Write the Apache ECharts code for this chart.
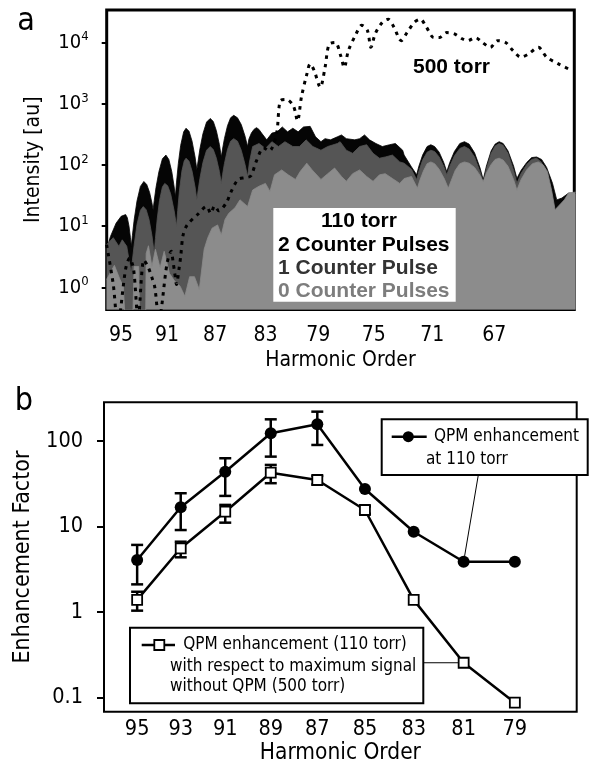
<!DOCTYPE html>
<html>
<head>
<meta charset="utf-8">
<script src="https://cdn.jsdelivr.net/npm/echarts@6/dist/echarts.min.js"></script>
<style>
  html, body { margin: 0; padding: 0; background: #fff; }
  #main { width: 590px; height: 766px; }
</style>
</head>
<body>
<div id="main"></div>
<script>
var FONT = '"DejaVu Sans Condensed", "Liberation Sans", sans-serif';
var BOLD = '"Liberation Sans", Arial, sans-serif';

// ---- panel a : spectra, [harmonic order, intensity au] ----
var twoPulses = [
  [96.3, 4.2], [95.95, 6.8], [95.45, 11.2], [95.0, 14.5], [94.6, 15.5], [94.45, 13.8], [94.3, 10], [94.18, 6.6], [94.1, 4.7],
  [94.0, 7.1], [93.85, 12.6], [93.6, 25.7], [93.3, 44.7], [93.0, 53.7], [92.75, 47.9], [92.5, 35.5], [92.3, 24], [92.2, 18.6],
  [92.1, 26.3], [91.95, 42.7], [91.7, 77.6], [91.4, 126], [91.1, 145], [90.85, 123], [90.6, 77.6], [90.4, 43.7], [90.3, 30.2],
  [90.2, 52.5], [90.05, 105], [89.85, 209], [89.6, 347], [89.4, 398], [89.15, 355], [88.9, 245], [88.65, 135], [88.5, 83.2],
  [88.4, 115], [88.25, 182], [88.0, 324], [87.7, 501], [87.4, 575], [87.15, 513], [86.9, 363], [86.65, 214], [86.5, 135],
  [86.4, 182], [86.25, 269], [86.0, 437], [85.75, 589], [85.5, 646], [85.2, 589], [84.9, 457], [84.6, 295], [84.4, 200],
  [84.3, 263], [84.1, 331], [83.9, 380], [83.7, 407], [83.5, 380], [83.3, 331], [82.9, 257], [82.5, 331], [82.1, 347],
  [81.7, 417], [81.3, 347], [80.9, 398], [80.5, 347], [80.1, 417], [79.6, 427], [79.2, 288], [78.8, 240], [78.5, 269],
  [78.1, 257], [77.6, 288], [77.3, 309], [76.95, 269], [76.35, 257], [76.0, 269], [75.65, 309], [75.3, 257], [74.85, 224],
  [74.4, 200], [73.9, 214], [73.5, 224], [73.0, 174], [72.9, 145], [72.4, 93], [72.05, 69.2],
  [71.9, 95.5], [71.65, 145], [71.35, 200], [71.1, 214], [70.85, 200], [70.55, 162], [70.25, 110], [70.05, 77.6],
  [69.85, 110], [69.55, 166], [69.2, 224], [68.9, 240], [68.6, 219], [68.25, 158], [67.9, 89.1], [67.7, 57.5],
  [67.5, 95.5], [67.2, 170], [66.95, 219], [66.7, 240], [66.45, 224], [66.15, 170], [65.8, 95.5], [65.6, 60.3],
  [65.35, 81.3], [65.0, 110], [64.7, 132], [64.4, 135], [64.1, 123], [63.8, 91.2], [63.45, 50.1], [63.2, 26.9],
  [62.9, 28.8], [62.5, 34.7], [62.1, 34.7]
];
var onePulse = [
  [96.3, 5.0], [95.7, 6.5], [95.2, 4.7], [94.9, 6.0], [94.5, 4.7], [94.1, 1.7],
  [94.0, 2.8], [93.85, 4.9], [93.6, 10.7], [93.3, 18.2], [93.05, 20.9], [92.8, 18.6], [92.55, 12.9], [92.3, 7.1], [92.1, 3.6],
  [92.0, 6.3], [91.85, 12.9], [91.65, 26.3], [91.4, 43.7], [91.2, 50], [90.95, 45.7], [90.7, 33.9], [90.4, 17.8], [90.2, 10],
  [90.1, 18.2], [89.95, 38.9], [89.75, 79.4], [89.55, 117], [89.4, 129], [89.15, 115], [88.9, 79.4], [88.65, 43.7], [88.5, 26.9],
  [88.4, 38], [88.25, 60.3], [88.0, 110], [87.7, 174], [87.4, 200], [87.15, 178], [86.9, 129], [86.65, 77.6], [86.5, 50],
  [86.4, 69.2], [86.25, 105], [86.0, 178], [85.75, 245], [85.5, 269], [85.2, 245], [84.9, 174], [84.6, 102], [84.4, 64.6],
  [84.25, 112], [84.0, 200], [83.5, 224], [83.0, 186], [82.5, 240], [82.0, 200], [81.5, 240], [80.9, 200],
  [80.4, 200], [79.9, 257], [79.4, 200], [78.8, 174], [78.3, 200], [77.6, 224], [77.4, 240],
  [76.95, 174], [76.5, 155], [76.0, 200], [75.5, 214], [75.05, 155], [74.6, 129], [74.2, 135],
  [73.7, 145], [73.2, 112], [72.9, 107], [72.4, 85], [72.05, 57.5],
  [71.9, 79.4], [71.65, 120], [71.35, 162], [71.1, 174], [70.85, 166], [70.55, 135], [70.25, 95.5], [70.05, 69.2],
  [69.85, 95.5], [69.55, 141], [69.2, 186], [68.9, 200], [68.6, 182], [68.25, 135], [67.9, 77.6], [67.7, 50.1],
  [67.5, 85.1], [67.2, 155], [66.95, 204], [66.7, 224], [66.45, 209], [66.15, 155], [65.8, 81.3], [65.6, 50.1],
  [65.35, 72.4], [65.0, 102], [64.7, 123], [64.4, 129], [64.1, 110], [63.8, 64.6], [63.5, 27.5], [63.3, 12.9],
  [62.9, 22], [62.5, 32], [62.1, 33]
];
var zeroPulses = [
  [96.3, 1.35], [95.6, 2.3], [95.1, 1.35], [94.8, 1.05], [94.6, 0.2], [94.0, 0.2],
  [93.85, 2.2], [93.45, 2.2], [93.35, 0.2], [92.85, 0.2], [92.8, 3.6], [92.6, 4.8],
  [92.3, 2.2], [92.0, 4.2], [91.6, 2.1], [91.25, 3.9], [90.8, 1.7], [90.35, 1.26],
  [89.9, 1.05], [89.5, 0.72], [89.1, 1.5], [88.7, 1.5], [88.3, 0.93], [87.9, 4.2],
  [87.6, 6.5], [87.25, 9.3], [86.8, 10.5], [86.5, 7.2], [86.2, 12.9], [85.9, 16.2],
  [85.4, 20], [85.0, 27], [84.4, 21], [84.0, 39], [83.5, 45], [83.0, 50], [82.65, 37],
  [82.3, 69], [81.75, 83], [81.25, 69], [80.7, 58], [80.35, 78], [79.85, 107], [79.45, 83],
  [78.8, 58], [78.3, 72], [77.8, 89], [77.3, 65], [76.95, 54], [76.5, 72], [76.0, 83],
  [75.5, 65], [75.05, 54], [74.6, 69], [74.2, 72], [73.7, 60], [73.2, 50], [72.9, 60],
  [72.4, 65], [72.0, 41.7], [71.85, 55], [71.6, 79.4], [71.35, 105], [71.1, 112], [70.85, 105],
  [70.55, 85.1], [70.2, 58.9], [69.95, 41.7], [69.75, 56.2], [69.5, 81.3], [69.2, 105], [68.9, 112],
  [68.6, 107], [68.25, 91.2], [67.9, 67.6], [67.7, 53.7], [67.5, 74.1], [67.2, 102], [66.95, 123],
  [66.7, 129], [66.45, 120], [66.15, 95.5], [65.8, 57.5], [65.6, 38.9], [65.35, 57.5], [65.0, 83.2],
  [64.65, 105], [64.3, 112], [64.0, 100], [63.75, 77.6], [63.5, 38], [63.3, 18.6], [62.75, 27],
  [62.5, 35], [62.1, 36]
];
var torr500 = [
  [96.3, 5.0], [95.7, 1.12], [95.3, 0.25], [94.6, 2.0], [94.25, 3.0], [93.9, 2.0], [93.5, 0.3],
  [93.0, 2.8], [92.65, 2.2], [92.3, 1.45], [92.05, 1.0], [91.7, 0.3], [91.0, 2.5], [90.65, 3.9],
  [90.5, 2.7], [90.35, 1.7], [90.2, 1.12], [90.0, 1.95], [89.85, 3.2], [89.65, 7.1], [89.3, 10.5],
  [88.4, 15.8], [87.7, 21], [87.35, 16.2], [87.05, 21.4], [86.7, 17.8], [86.1, 24], [85.7, 37],
  [85.15, 58], [84.6, 62], [84.15, 66], [83.7, 117], [83.15, 190], [82.7, 170], [82.15, 316],
  [81.85, 1120], [81.4, 1175], [80.85, 912], [80.55, 525], [80.25, 1290], [79.85, 3020],
  [79.6, 4470], [79.3, 3470], [78.85, 1860], [78.5, 3890], [78.2, 9330], [77.75, 10000],
  [77.35, 6030], [77.1, 3890], [76.8, 7410], [76.25, 13800], [75.85, 19100], [75.45, 15800],
  [75.2, 8320], [74.9, 13800], [74.4, 21400], [74.0, 24000], [73.6, 17800], [73.1, 10700],
  [72.7, 14500], [72.2, 21400], [71.8, 24000], [71.4, 17800], [70.9, 12000], [70.55, 12000],
  [70.05, 14500], [69.55, 13800], [69.05, 11500], [68.7, 10700], [68.2, 12000], [67.75, 10000],
  [67.25, 8320], [66.8, 10700], [66.3, 10000], [65.85, 7410], [65.35, 5750], [64.9, 6460],
  [64.3, 8320], [63.8, 5750], [63.1, 4470], [62.45, 3630]
];
var ordersA = [95, 91, 87, 83, 79, 75, 71, 67];
var decadesA = [1, 10, 100, 1000, 10000];

// ---- panel b : enhancement factor ----
var ordersB = [95, 93, 91, 89, 87, 85, 83, 81, 79];
var qpm110 = [4.06, 16.8, 43.7, 123, 157, 27.5, 8.7, 3.88, 3.88];
var qpm110Lo = [2.11, 9.1, 22.8, 65.6, 89.8, null, null, null, null];
var qpm110Hi = [6.1, 24.5, 62.8, 179, 220, null, null, null, null];
var qpmRel = [1.39, 5.57, 14.9, 42.6, 35, 15.6, 1.39, 0.256, 0.0875];
var qpmRelLo = [1.04, 4.37, 11.1, 32.1, 31, 14.1, null, null, null];
var qpmRelHi = [1.73, 6.65, 17.9, 52.5, 39, 17.2, null, null, null];
var decadesB = [0.1, 1, 10, 100];

var chart = echarts.init(document.getElementById('main'));

function areaSeries(name, data, color, z) {
  return {
    name: name, type: 'line', xAxisIndex: 0, yAxisIndex: 0, z: z,
    data: data, symbol: 'none', smooth: false,
    lineStyle: { color: color, width: 0.8 },
    areaStyle: { color: color, opacity: 1, origin: 'start' }
  };
}

function errSeries(lo, hi) {
  var d = [];
  ordersB.forEach(function (q, i) {
    if (lo[i] != null) d.push([q, lo[i], hi[i]]);
  });
  return {
    type: 'custom', xAxisIndex: 1, yAxisIndex: 1, z: 3, data: d,
    renderItem: function (params, api) {
      var top = api.coord([api.value(0), api.value(2)]);
      var bot = api.coord([api.value(0), api.value(1)]);
      var w = 6;
      var st = { stroke: '#000', lineWidth: 2.5 };
      return {
        type: 'group',
        children: [
          { type: 'line', shape: { x1: top[0], y1: top[1], x2: bot[0], y2: bot[1] }, style: st },
          { type: 'line', shape: { x1: top[0] - w, y1: top[1], x2: top[0] + w, y2: top[1] }, style: st },
          { type: 'line', shape: { x1: bot[0] - w, y1: bot[1], x2: bot[0] + w, y2: bot[1] }, style: st }
        ]
      };
    }
  };
}

function pairs(ys) {
  return ordersB.map(function (q, i) { return [q, ys[i]]; });
}

var axisText = { color: '#000', fontFamily: FONT, fontSize: 21 };

var option = {
  animation: false,
  grid: [
    { left: 106.7, top: 10, right: 15.7, bottom: 456.5, show: true, borderColor: '#000', borderWidth: 3 },
    { left: 104, top: 402.3, right: 13.3, bottom: 54.3, show: true, borderColor: '#000', borderWidth: 2 }
  ],
  xAxis: [
    {
      type: 'log', gridIndex: 0, inverse: true, min: 62.17, max: 96.29,
      name: 'Harmonic Order', nameLocation: 'middle', nameGap: 41, nameTextStyle: axisText,
      axisLine: { show: false }, axisTick: { show: false }, splitLine: { show: false },
      axisLabel: { customValues: ordersA, margin: 16, color: '#000', fontFamily: FONT, fontSize: 21 }
    },
    {
      type: 'log', gridIndex: 1, inverse: true, min: 76.65, max: 96.55,
      name: 'Harmonic Order', nameLocation: 'middle', nameGap: 26,
      nameTextStyle: { color: '#000', fontFamily: FONT, fontSize: 22.5 },
      axisLine: { show: false }, axisTick: { show: false }, splitLine: { show: false },
      axisLabel: { customValues: ordersB, margin: 7, color: '#000', fontFamily: FONT, fontSize: 21.5 }
    }
  ],
  yAxis: [
    {
      type: 'log', gridIndex: 0, min: 0.4365, max: 33900,
      name: 'Intensity [au]', nameLocation: 'middle', nameRotate: 90, nameGap: 63, nameTextStyle: axisText,
      axisLine: { show: false }, splitLine: { show: false },
      axisTick: { show: true, customValues: decadesA, length: 5, lineStyle: { color: '#000', width: 2 } },
      axisLabel: {
        customValues: decadesA, margin: 18,
        formatter: function (v) {
          return '{b|10}{s|' + Math.round(Math.log10(v)) + '}';
        },
        rich: {
          b: { fontSize: 20, fontFamily: FONT, color: '#000', lineHeight: 24 },
          s: { fontSize: 13, fontFamily: FONT, color: '#000', verticalAlign: 'top', lineHeight: 14 }
        }
      }
    },
    {
      type: 'log', gridIndex: 1, min: 0.0686, max: 283,
      name: 'Enhancement Factor', nameLocation: 'middle', nameRotate: 90, nameGap: 69,
      nameTextStyle: { color: '#000', fontFamily: FONT, fontSize: 23 },
      axisLine: { show: false }, splitLine: { show: false },
      axisTick: { show: true, customValues: decadesB, length: 7, lineStyle: { color: '#000', width: 2 } },
      axisLabel: {
        customValues: decadesB, margin: 21, color: '#000', fontFamily: FONT, fontSize: 21.5,
        formatter: function (v) { return String(v); }
      }
    }
  ],
  series: [
    areaSeries('2 Counter Pulses', twoPulses, '#050505', 2),
    areaSeries('1 Counter Pulse', onePulse, '#555555', 3),
    areaSeries('0 Counter Pulses', zeroPulses, '#8c8c8c', 4),
    {
      name: '500 torr', type: 'line', xAxisIndex: 0, yAxisIndex: 0, z: 5,
      data: torr500, symbol: 'none', smooth: 0.3,
      lineStyle: { color: '#000', width: 3, type: [3.5, 5], cap: 'butt' }
    },
    errSeries(qpm110Lo, qpm110Hi),
    errSeries(qpmRelLo, qpmRelHi),
    {
      name: 'QPM enhancement at 110 torr', type: 'line', xAxisIndex: 1, yAxisIndex: 1, z: 4,
      data: pairs(qpm110), symbol: 'circle', symbolSize: 12,
      itemStyle: { color: '#000' }, lineStyle: { color: '#000', width: 2.5 }
    },
    {
      name: 'QPM enhancement relative', type: 'line', xAxisIndex: 1, yAxisIndex: 1, z: 4,
      data: pairs(qpmRel), symbol: 'rect', symbolSize: 10,
      itemStyle: { color: '#fff', borderColor: '#000', borderWidth: 1.8 },
      lineStyle: { color: '#000', width: 2.5 }
    }
  ]
};
chart.setOption(option);

// annotations, legends and leader lines
var p81a = chart.convertToPixel({ xAxisIndex: 1, yAxisIndex: 1 }, [81, qpm110[7]]);
var p81b = chart.convertToPixel({ xAxisIndex: 1, yAxisIndex: 1 }, [81, qpmRel[7]]);
var small = { fontFamily: FONT, fontSize: 17, fill: '#000', textVerticalAlign: 'middle' };
var bold = { fontFamily: BOLD, fontWeight: 'bold', fontSize: 21, textVerticalAlign: 'middle' };
function txt(x, y, s, style, z) {
  return { type: 'text', z: z || 100, x: x, y: y, style: Object.assign({ text: s }, style) };
}

chart.setOption({
  graphic: { elements: [
    txt(26, 22, 'a', { fontFamily: FONT, fontSize: 32, fill: '#000', textAlign: 'center', textVerticalAlign: 'middle' }),
    txt(24, 402, 'b', { fontFamily: FONT, fontSize: 32, fill: '#000', textAlign: 'center', textVerticalAlign: 'middle' }),
    txt(413, 67, '500 torr', Object.assign({ fill: '#000' }, bold)),
    { type: 'rect', z: 100, shape: { x: 273.3, y: 208, width: 182.4, height: 93.7 }, style: { fill: '#fff' } },
    txt(359, 221.7, '110 torr', Object.assign({ fill: '#000', textAlign: 'center' }, bold), 101),
    txt(278, 245, '2 Counter Pulses', Object.assign({ fill: '#000' }, bold), 101),
    txt(278, 268, '1 Counter Pulse', Object.assign({ fill: '#333' }, bold), 101),
    txt(278, 291, '0 Counter Pulses', Object.assign({ fill: '#7d7d7d' }, bold), 101),

    { type: 'line', z: 100, shape: { x1: 478.3, y1: 475, x2: p81a[0], y2: p81a[1] }, style: { stroke: '#000', lineWidth: 1 } },
    { type: 'rect', z: 101, shape: { x: 381.7, y: 419.3, width: 206, height: 55.7 }, style: { fill: '#fff', stroke: '#000', lineWidth: 2 } },
    { type: 'line', z: 102, shape: { x1: 391.7, y1: 436.7, x2: 426.7, y2: 436.7 }, style: { stroke: '#000', lineWidth: 2.5 } },
    { type: 'circle', z: 102, shape: { cx: 408.3, cy: 436.7, r: 5.5 }, style: { fill: '#000' } },
    txt(434, 436.7, 'QPM enhancement', small, 102),
    txt(426, 460, 'at 110 torr', small, 102),

    { type: 'line', z: 100, shape: { x1: 423.3, y1: p81b[1], x2: p81b[0] - 5, y2: p81b[1] }, style: { stroke: '#000', lineWidth: 1 } },
    { type: 'rect', z: 101, shape: { x: 130, y: 627.7, width: 293.3, height: 75.6 }, style: { fill: '#fff', stroke: '#000', lineWidth: 2 } },
    { type: 'line', z: 102, shape: { x1: 141.7, y1: 645, x2: 175, y2: 645 }, style: { stroke: '#000', lineWidth: 2.5 } },
    { type: 'rect', z: 103, shape: { x: 154.3, y: 640, width: 10, height: 10 }, style: { fill: '#fff', stroke: '#000', lineWidth: 1.8 } },
    txt(183.3, 645, 'QPM enhancement (110 torr)', small, 102),
    txt(170, 666.7, 'with respect to maximum signal', small, 102),
    txt(170, 686.7, 'without QPM (500 torr)', small, 102)
  ] }
});
</script>
</body>
</html>
